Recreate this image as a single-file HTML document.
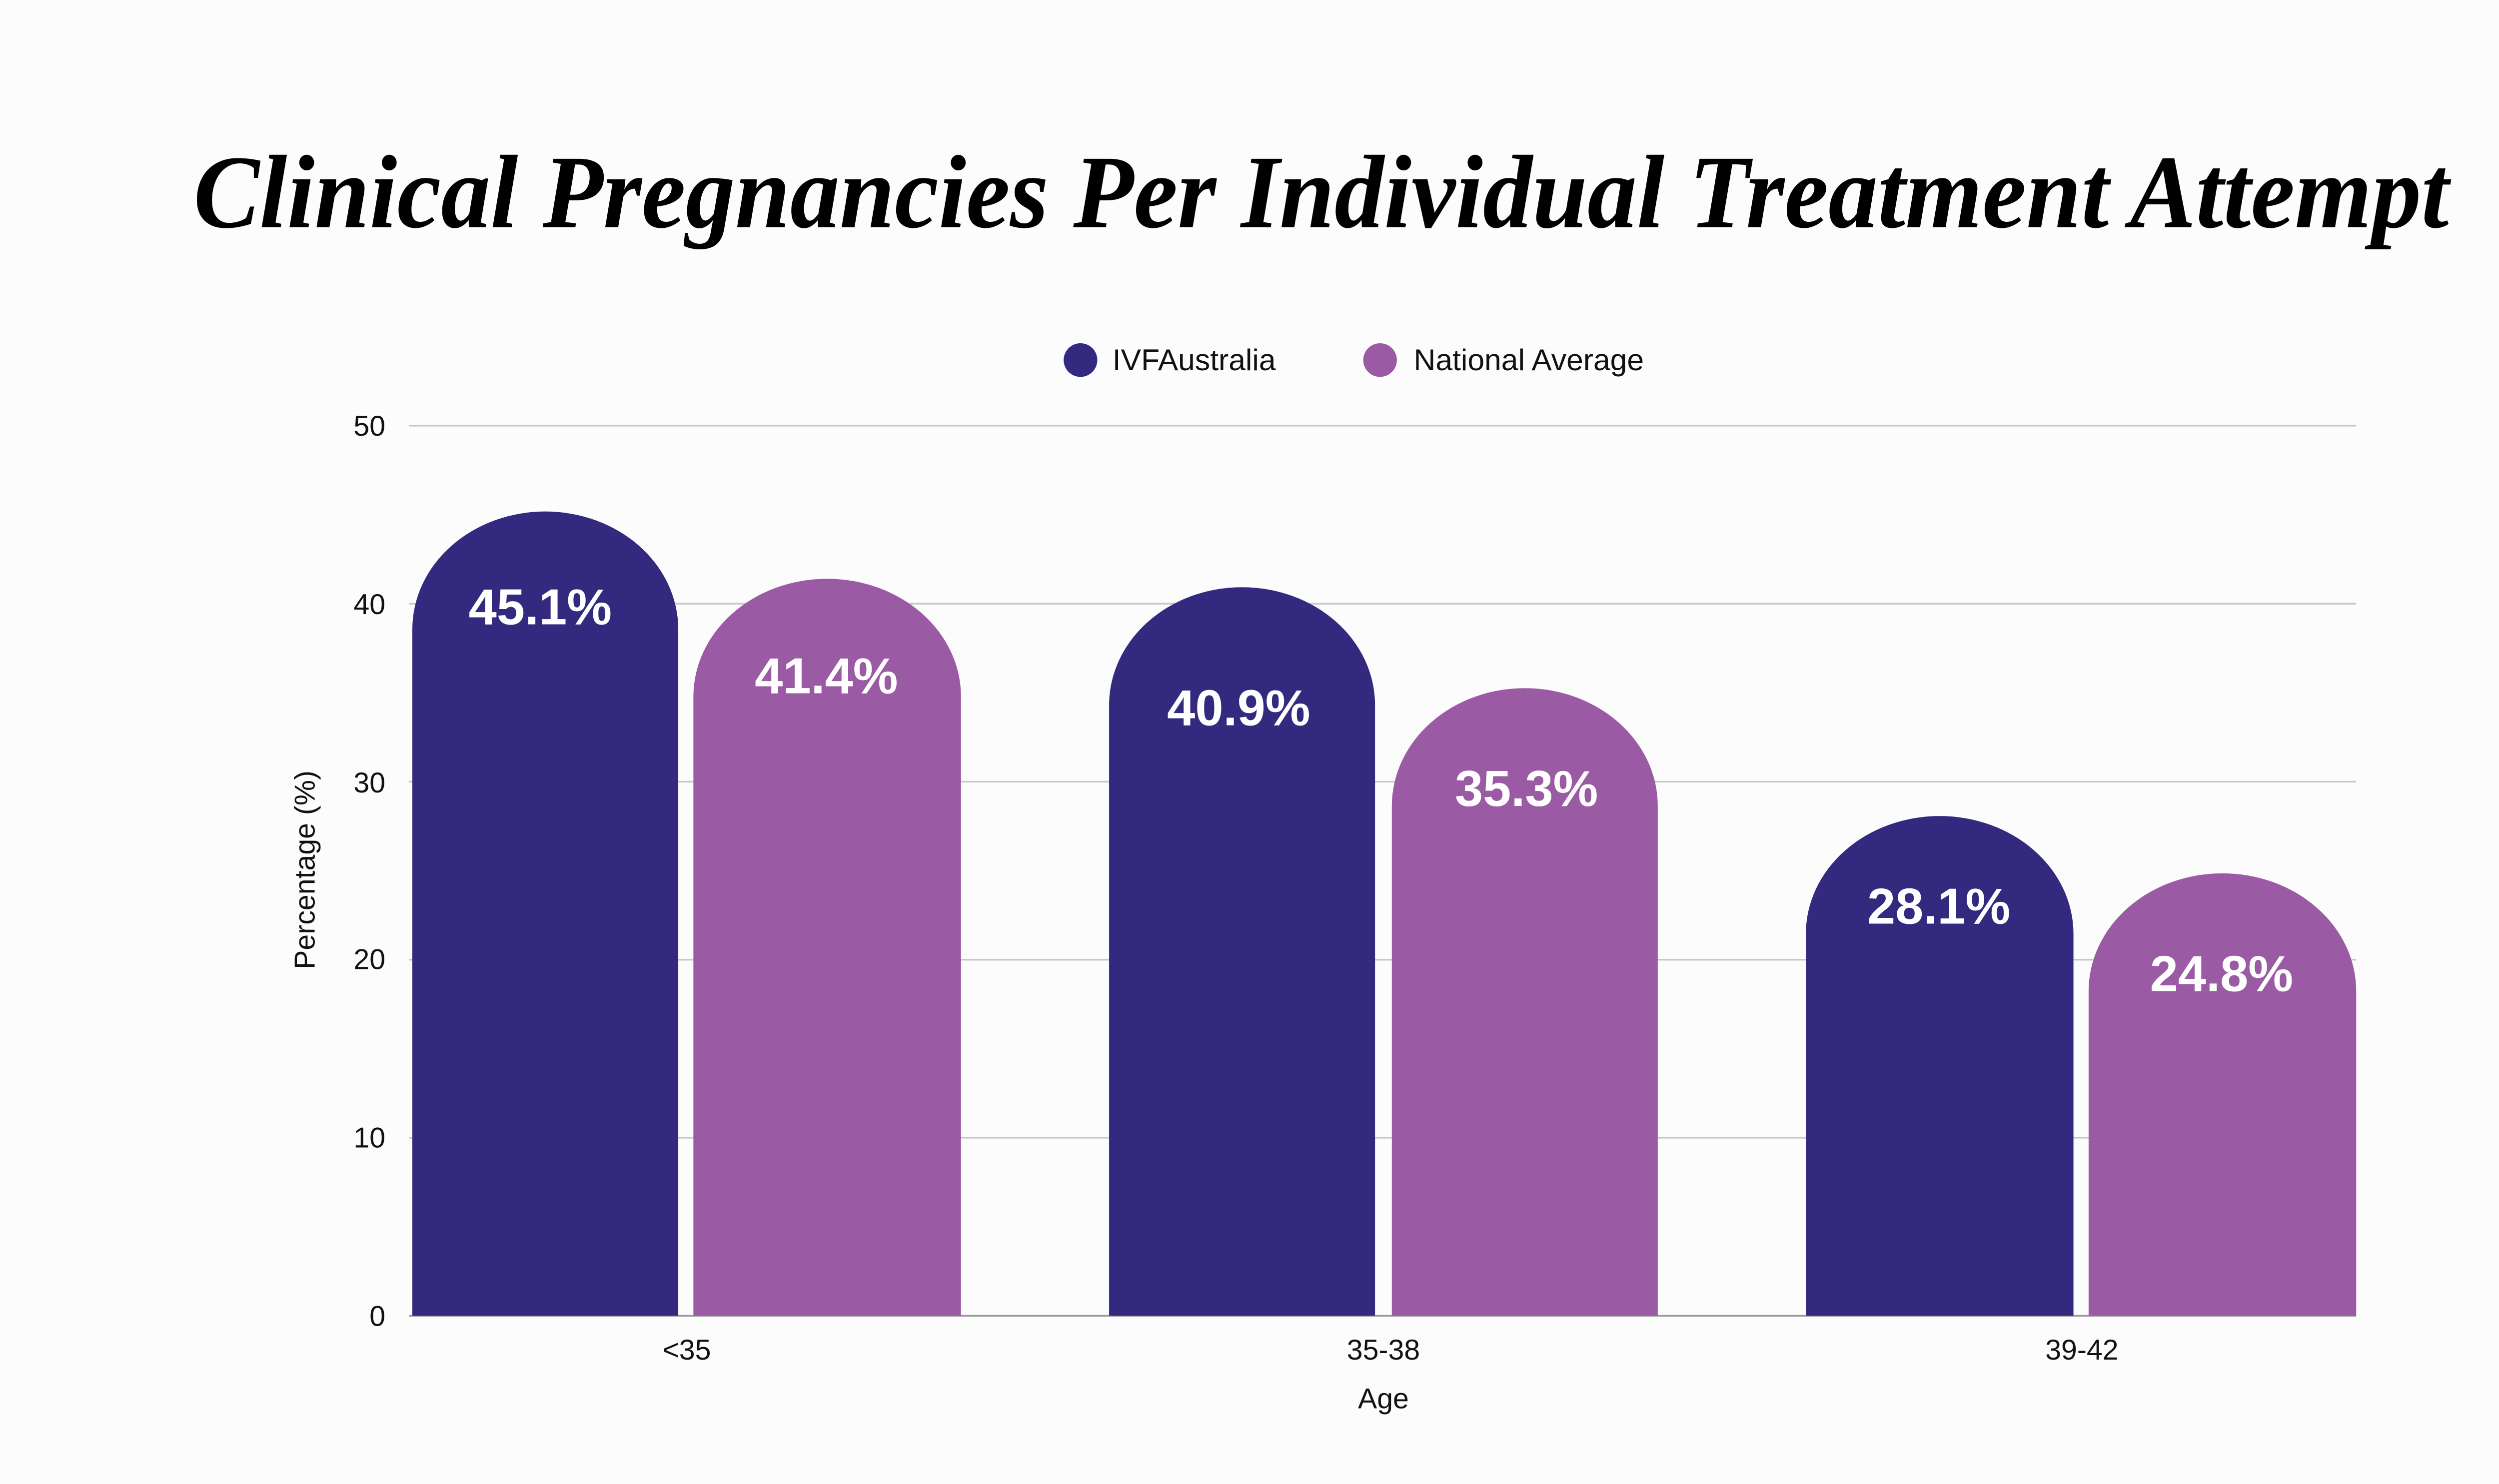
<!DOCTYPE html>
<html><head><meta charset="utf-8"><style>
html,body{margin:0;padding:0;background:#fcfcfc;width:5280px;height:2970px;overflow:hidden;}
svg{display:block;overflow:hidden;}
text{font-family:"Liberation Sans",sans-serif;}
</style></head><body>
<svg width="5280" height="2970" viewBox="0 0 1568 882" preserveAspectRatio="none" xmlns="http://www.w3.org/2000/svg">
<rect width="1568" height="882" fill="#fcfcfc"/>
<text x="785" y="135" text-anchor="middle" font-style="italic" font-weight="bold" font-size="62" textLength="1340" lengthAdjust="spacingAndGlyphs" fill="#000" style="font-family:'Liberation Serif',serif">Clinical Pregnancies Per Individual Treatment Attempt</text>
<circle cx="642" cy="214" r="10" fill="#332a80"/>
<text x="661" y="220" font-size="18" fill="#111">IVFAustralia</text>
<circle cx="820" cy="214" r="10" fill="#9b5ba4"/>
<text x="840" y="220" font-size="18" fill="#111">National Average</text>
<g stroke="#c8c8c8" stroke-width="1">
<line x1="243" y1="253" x2="1400" y2="253"/>
<line x1="243" y1="358.8" x2="1400" y2="358.8"/>
<line x1="243" y1="464.6" x2="1400" y2="464.6"/>
<line x1="243" y1="570.4" x2="1400" y2="570.4"/>
<line x1="243" y1="676.2" x2="1400" y2="676.2"/>
<line x1="243" y1="782" x2="1400" y2="782" stroke="#999"/>
</g>
<g font-size="17" fill="#111" text-anchor="end">
<text x="229" y="259">50</text>
<text x="229" y="365">40</text>
<text x="229" y="471">30</text>
<text x="229" y="576">20</text>
<text x="229" y="682">10</text>
<text x="229" y="788">0</text>
</g>
<text transform="translate(187,517) rotate(-90)" text-anchor="middle" font-size="17" fill="#111">Percentage (%)</text>
<g>
<path d="M245,782 V374 A79,70 0 0 1 403,374 V782 Z" fill="#332a80"/>
<path d="M412,782 V414 A79.5,70 0 0 1 571,414 V782 Z" fill="#9b5ba4"/>
<path d="M659,782 V419 A79,70 0 0 1 817,419 V782 Z" fill="#332a80"/>
<path d="M827,782 V479 A79,70 0 0 1 985,479 V782 Z" fill="#9b5ba4"/>
<path d="M1073,782 V555 A79.5,70 0 0 1 1232,555 V782 Z" fill="#332a80"/>
<path d="M1241,782 V589 A79.5,70 0 0 1 1400,589 V782 Z" fill="#9b5ba4"/>
</g>
<g font-size="30" font-weight="bold" fill="#fff" text-anchor="middle">
<text x="321" y="371">45.1%</text>
<text x="491" y="412">41.4%</text>
<text x="736" y="431">40.9%</text>
<text x="907" y="479">35.3%</text>
<text x="1152" y="549">28.1%</text>
<text x="1320" y="589">24.8%</text>
</g>
<g font-size="17" fill="#111" text-anchor="middle">
<text x="408" y="808">&lt;35</text>
<text x="822" y="808">35-38</text>
<text x="1237" y="808">39-42</text>
<text x="822" y="837">Age</text>
</g>
</svg>
</body></html>
